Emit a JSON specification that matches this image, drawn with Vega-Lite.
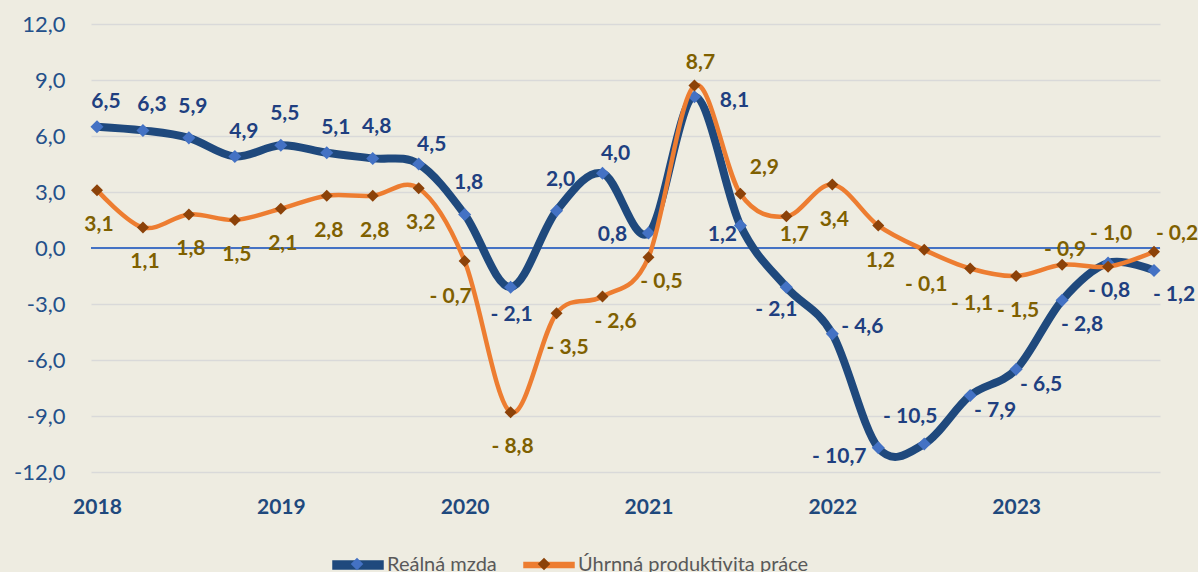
{
  "$schema": "https://vega.github.io/schema/vega-lite/v6.json",
  "width": 1069,
  "height": 448,
  "autosize": {"type": "none"},
  "padding": {"left": 91, "top": 24, "right": 38, "bottom": 100},
  "background": "#EEECE1",
  "config": {
    "view": {"stroke": null},
    "font": "Lato",
    "locale": {"number": {"decimal": ",", "thousands": " ", "grouping": [3], "currency": ["", ""], "minus": "- "}}
  },
  "data": {"values": [
    {"obdobi": "2018 Q1", "serie": "Reálná mzda", "hodnota": 6.5},
    {"obdobi": "2018 Q2", "serie": "Reálná mzda", "hodnota": 6.3},
    {"obdobi": "2018 Q3", "serie": "Reálná mzda", "hodnota": 5.9},
    {"obdobi": "2018 Q4", "serie": "Reálná mzda", "hodnota": 4.9},
    {"obdobi": "2019 Q1", "serie": "Reálná mzda", "hodnota": 5.5},
    {"obdobi": "2019 Q2", "serie": "Reálná mzda", "hodnota": 5.1},
    {"obdobi": "2019 Q3", "serie": "Reálná mzda", "hodnota": 4.8},
    {"obdobi": "2019 Q4", "serie": "Reálná mzda", "hodnota": 4.5},
    {"obdobi": "2020 Q1", "serie": "Reálná mzda", "hodnota": 1.8},
    {"obdobi": "2020 Q2", "serie": "Reálná mzda", "hodnota": -2.1},
    {"obdobi": "2020 Q3", "serie": "Reálná mzda", "hodnota": 2.0},
    {"obdobi": "2020 Q4", "serie": "Reálná mzda", "hodnota": 4.0},
    {"obdobi": "2021 Q1", "serie": "Reálná mzda", "hodnota": 0.8},
    {"obdobi": "2021 Q2", "serie": "Reálná mzda", "hodnota": 8.1},
    {"obdobi": "2021 Q3", "serie": "Reálná mzda", "hodnota": 1.2},
    {"obdobi": "2021 Q4", "serie": "Reálná mzda", "hodnota": -2.1},
    {"obdobi": "2022 Q1", "serie": "Reálná mzda", "hodnota": -4.6},
    {"obdobi": "2022 Q2", "serie": "Reálná mzda", "hodnota": -10.7},
    {"obdobi": "2022 Q3", "serie": "Reálná mzda", "hodnota": -10.5},
    {"obdobi": "2022 Q4", "serie": "Reálná mzda", "hodnota": -7.9},
    {"obdobi": "2023 Q1", "serie": "Reálná mzda", "hodnota": -6.5},
    {"obdobi": "2023 Q2", "serie": "Reálná mzda", "hodnota": -2.8},
    {"obdobi": "2023 Q3", "serie": "Reálná mzda", "hodnota": -0.8},
    {"obdobi": "2023 Q4", "serie": "Reálná mzda", "hodnota": -1.2},
    {"obdobi": "2018 Q1", "serie": "Úhrnná produktivita práce", "hodnota": 3.1},
    {"obdobi": "2018 Q2", "serie": "Úhrnná produktivita práce", "hodnota": 1.1},
    {"obdobi": "2018 Q3", "serie": "Úhrnná produktivita práce", "hodnota": 1.8},
    {"obdobi": "2018 Q4", "serie": "Úhrnná produktivita práce", "hodnota": 1.5},
    {"obdobi": "2019 Q1", "serie": "Úhrnná produktivita práce", "hodnota": 2.1},
    {"obdobi": "2019 Q2", "serie": "Úhrnná produktivita práce", "hodnota": 2.8},
    {"obdobi": "2019 Q3", "serie": "Úhrnná produktivita práce", "hodnota": 2.8},
    {"obdobi": "2019 Q4", "serie": "Úhrnná produktivita práce", "hodnota": 3.2},
    {"obdobi": "2020 Q1", "serie": "Úhrnná produktivita práce", "hodnota": -0.7},
    {"obdobi": "2020 Q2", "serie": "Úhrnná produktivita práce", "hodnota": -8.8},
    {"obdobi": "2020 Q3", "serie": "Úhrnná produktivita práce", "hodnota": -3.5},
    {"obdobi": "2020 Q4", "serie": "Úhrnná produktivita práce", "hodnota": -2.6},
    {"obdobi": "2021 Q1", "serie": "Úhrnná produktivita práce", "hodnota": -0.5},
    {"obdobi": "2021 Q2", "serie": "Úhrnná produktivita práce", "hodnota": 8.7},
    {"obdobi": "2021 Q3", "serie": "Úhrnná produktivita práce", "hodnota": 2.9},
    {"obdobi": "2021 Q4", "serie": "Úhrnná produktivita práce", "hodnota": 1.7},
    {"obdobi": "2022 Q1", "serie": "Úhrnná produktivita práce", "hodnota": 3.4},
    {"obdobi": "2022 Q2", "serie": "Úhrnná produktivita práce", "hodnota": 1.2},
    {"obdobi": "2022 Q3", "serie": "Úhrnná produktivita práce", "hodnota": -0.1},
    {"obdobi": "2022 Q4", "serie": "Úhrnná produktivita práce", "hodnota": -1.1},
    {"obdobi": "2023 Q1", "serie": "Úhrnná produktivita práce", "hodnota": -1.5},
    {"obdobi": "2023 Q2", "serie": "Úhrnná produktivita práce", "hodnota": -0.9},
    {"obdobi": "2023 Q3", "serie": "Úhrnná produktivita práce", "hodnota": -1.0},
    {"obdobi": "2023 Q4", "serie": "Úhrnná produktivita práce", "hodnota": -0.2}
  ]},
  "layer": [
    {
      "data": {"values": [{"hodnota": 0}]},
      "mark": {"type": "rule", "color": "#4472C4", "strokeWidth": 2},
      "encoding": {"y": {"field": "hodnota", "type": "quantitative", "scale": {"domain": [-12, 12], "nice": false, "zero": false},
        "axis": {"title": null, "values": [-12, -9, -6, -3, 0, 3, 6, 9, 12], "ticks": false, "domain": false,
          "grid": true, "gridColor": "#D9D9D9", "gridWidth": 1.5,
          "labelExpr": "(datum.value < 0 ? '-' : '') + format(abs(datum.value), '.1f')",
          "labelFont": "Lato", "labelFontSize": 22, "labelColor": "#24508A", "labelPadding": 26}}}
    },
    {
      "encoding": {
        "x": {"field": "obdobi", "type": "ordinal", "sort": null,
          "scale": {"type": "point", "padding": 0.13},
          "axis": {"title": null, "ticks": false, "domain": false, "grid": false, "labelAngle": 0,
            "labelExpr": "indexof(datum.value, 'Q1') >= 0 ? slice(datum.value, 0, 4) : ''",
            "labelFont": "Lato", "labelFontWeight": "bold", "labelFontSize": 21, "labelColor": "#1F497D",
            "labelPadding": 24, "labelOverlap": false}},
        "y": {"field": "hodnota", "type": "quantitative",
          "scale": {"domain": [-12, 12], "nice": false, "zero": false},
          "axis": {"title": null, "values": [-12, -9, -6, -3, 0, 3, 6, 9, 12], "ticks": false, "domain": false,
            "grid": true, "gridColor": "#D9D9D9", "gridWidth": 1.5,
            "labelExpr": "(datum.value < 0 ? '-' : '') + format(abs(datum.value), '.1f')",
            "labelFont": "Lato", "labelFontSize": 22, "labelColor": "#24508A", "labelPadding": 26}}
      },
      "layer": [
        {
          "transform": [{"filter": {"field": "serie", "equal": "Reálná mzda"}}],
          "mark": {"type": "line", "interpolate": "cardinal", "tension": 0, "strokeWidth": 8, "strokeCap": "round", "strokeJoin": "round"},
          "encoding": {"color": {"field": "serie", "type": "nominal",
            "scale": {"range": ["#1F497D", "#ED7D31"]},
            "legend": {"orient": "none", "legendX": 241, "legendY": 515, "direction": "horizontal", "title": null,
              "symbolType": "M-1,-0.16L1,-0.16L1,0.16L-1,0.16Z", "symbolSize": 2500,
              "labelFont": "Lato", "labelFontSize": 20, "labelColor": "#595959", "labelLimit": 400, "columnPadding": 24, "labelOffset": 3,
              "encoding": {"symbols": {
                "shape": {"condition": {"test": "datum.value === 'Reálná mzda'", "value": "M-1,-0.16L1,-0.16L1,0.16L-1,0.16Z"}, "value": "M-1,-0.1L1,-0.1L1,0.1L-1,0.1Z"},
                "fill": {"condition": {"test": "datum.value === 'Reálná mzda'", "value": "#1F497D"}, "value": "#ED7D31"},
                "stroke": {"value": "transparent"}
              }}}}}
        },
        {
          "transform": [{"filter": {"field": "serie", "equal": "Reálná mzda"}}],
          "mark": {"type": "point", "shape": "diamond", "filled": true, "size": 170, "opacity": 1, "strokeWidth": 0},
          "encoding": {"fill": {"field": "serie", "type": "nominal",
            "scale": {"domain": ["Reálná mzda", "Úhrnná produktivita práce"], "range": ["#4472C4", "#8C4209"]},
            "legend": {"orient": "none", "legendX": 241, "legendY": 515, "direction": "horizontal", "title": null,
              "symbolType": "M0,-0.25L0.25,0L0,0.25L-0.25,0Z", "symbolSize": 2500, "symbolStrokeWidth": 0,
              "labelFont": "Lato", "labelFontSize": 20, "labelOpacity": 0, "labelLimit": 400, "columnPadding": 24, "labelOffset": 3}}}
        },
        {
          "transform": [{"filter": {"field": "serie", "equal": "Úhrnná produktivita práce"}}],
          "mark": {"type": "line", "interpolate": "cardinal", "tension": 0, "strokeWidth": 4.5, "strokeCap": "round", "strokeJoin": "round"},
          "encoding": {"color": {"field": "serie", "type": "nominal"}}
        },
        {
          "transform": [{"filter": {"field": "serie", "equal": "Úhrnná produktivita práce"}}],
          "mark": {"type": "point", "shape": "diamond", "filled": true, "size": 144, "opacity": 1, "strokeWidth": 0},
          "encoding": {"fill": {"field": "serie", "type": "nominal"}}
        },
        {
          "encoding": {"text": {"field": "hodnota", "type": "quantitative", "format": ".1f"}},
          "layer": [
            {"transform": [{"filter": {"and": [{"field": "serie", "equal": "Reálná mzda"}, {"field": "obdobi", "oneOf": ["2018 Q3", "2019 Q1", "2019 Q3", "2020 Q1", "2020 Q3"]}]}}],
             "mark": {"type": "text", "font": "Lato", "fontWeight": "bold", "fontSize": 21, "color": "#203F80", "baseline": "middle", "align": "center", "dx": 4, "dy": -31}},
            {"transform": [{"filter": {"and": [{"field": "serie", "equal": "Reálná mzda"}, {"field": "obdobi", "oneOf": ["2018 Q1", "2018 Q2", "2018 Q4", "2019 Q2"]}]}}],
             "mark": {"type": "text", "font": "Lato", "fontWeight": "bold", "fontSize": 21, "color": "#203F80", "baseline": "middle", "align": "center", "dx": 9, "dy": -25}},
            {"transform": [{"filter": {"and": [{"field": "serie", "equal": "Reálná mzda"}, {"field": "obdobi", "oneOf": ["2019 Q4", "2020 Q4"]}]}}],
             "mark": {"type": "text", "font": "Lato", "fontWeight": "bold", "fontSize": 21, "color": "#203F80", "baseline": "middle", "align": "center", "dx": 13, "dy": -19}},
            {"transform": [{"filter": {"and": [{"field": "serie", "equal": "Reálná mzda"}, {"field": "obdobi", "oneOf": ["2020 Q2", "2023 Q3"]}]}}],
             "mark": {"type": "text", "font": "Lato", "fontWeight": "bold", "fontSize": 21, "color": "#203F80", "baseline": "middle", "align": "center", "dx": 1, "dy": 28}},
            {"transform": [{"filter": {"and": [{"field": "serie", "equal": "Reálná mzda"}, {"field": "obdobi", "oneOf": ["2022 Q4", "2023 Q1"]}]}}],
             "mark": {"type": "text", "font": "Lato", "fontWeight": "bold", "fontSize": 21, "color": "#203F80", "baseline": "middle", "align": "center", "dx": 25, "dy": 16}},
            {"transform": [{"filter": {"and": [{"field": "serie", "equal": "Reálná mzda"}, {"field": "obdobi", "oneOf": ["2023 Q2", "2023 Q4"]}]}}],
             "mark": {"type": "text", "font": "Lato", "fontWeight": "bold", "fontSize": 21, "color": "#203F80", "baseline": "middle", "align": "center", "dx": 20, "dy": 25}},
            {"transform": [{"filter": {"and": [{"field": "serie", "equal": "Reálná mzda"}, {"field": "obdobi", "oneOf": ["2021 Q2"]}]}}],
             "mark": {"type": "text", "font": "Lato", "fontWeight": "bold", "fontSize": 21, "color": "#203F80", "baseline": "middle", "align": "center", "dx": 40, "dy": 4}},
            {"transform": [{"filter": {"and": [{"field": "serie", "equal": "Reálná mzda"}, {"field": "obdobi", "oneOf": ["2022 Q1"]}]}}],
             "mark": {"type": "text", "font": "Lato", "fontWeight": "bold", "fontSize": 21, "color": "#203F80", "baseline": "middle", "align": "center", "dx": 30, "dy": -7}},
            {"transform": [{"filter": {"and": [{"field": "serie", "equal": "Reálná mzda"}, {"field": "obdobi", "oneOf": ["2021 Q1"]}]}}],
             "mark": {"type": "text", "font": "Lato", "fontWeight": "bold", "fontSize": 21, "color": "#203F80", "baseline": "middle", "align": "center", "dx": -36, "dy": 2}},
            {"transform": [{"filter": {"and": [{"field": "serie", "equal": "Reálná mzda"}, {"field": "obdobi", "oneOf": ["2022 Q2"]}]}}],
             "mark": {"type": "text", "font": "Lato", "fontWeight": "bold", "fontSize": 21, "color": "#203F80", "baseline": "middle", "align": "center", "dx": -39, "dy": 9}},
            {"transform": [{"filter": {"and": [{"field": "serie", "equal": "Reálná mzda"}, {"field": "obdobi", "oneOf": ["2021 Q3"]}]}}],
             "mark": {"type": "text", "font": "Lato", "fontWeight": "bold", "fontSize": 21, "color": "#203F80", "baseline": "middle", "align": "center", "dx": -18, "dy": 9}},
            {"transform": [{"filter": {"and": [{"field": "serie", "equal": "Reálná mzda"}, {"field": "obdobi", "oneOf": ["2021 Q4"]}]}}],
             "mark": {"type": "text", "font": "Lato", "fontWeight": "bold", "fontSize": 21, "color": "#203F80", "baseline": "middle", "align": "center", "dx": -10, "dy": 23}},
            {"transform": [{"filter": {"and": [{"field": "serie", "equal": "Reálná mzda"}, {"field": "obdobi", "oneOf": ["2022 Q3"]}]}}],
             "mark": {"type": "text", "font": "Lato", "fontWeight": "bold", "fontSize": 21, "color": "#203F80", "baseline": "middle", "align": "center", "dx": -14, "dy": -27}},
            {"transform": [{"filter": {"and": [{"field": "serie", "equal": "Úhrnná produktivita práce"}, {"field": "obdobi", "oneOf": ["2018 Q1", "2018 Q2", "2018 Q3", "2018 Q4", "2019 Q1", "2019 Q2", "2019 Q3", "2019 Q4", "2020 Q2", "2022 Q1", "2022 Q2", "2022 Q3", "2022 Q4", "2023 Q1"]}]}}],
             "mark": {"type": "text", "font": "Lato", "fontWeight": "bold", "fontSize": 21, "color": "#7F6000", "baseline": "middle", "align": "center", "dx": 2, "dy": 35}},
            {"transform": [{"filter": {"and": [{"field": "serie", "equal": "Úhrnná produktivita práce"}, {"field": "obdobi", "oneOf": ["2020 Q1"]}]}}],
             "mark": {"type": "text", "font": "Lato", "fontWeight": "bold", "fontSize": 21, "color": "#7F6000", "baseline": "middle", "align": "center", "dx": -14, "dy": 36}},
            {"transform": [{"filter": {"and": [{"field": "serie", "equal": "Úhrnná produktivita práce"}, {"field": "obdobi", "oneOf": ["2020 Q3"]}]}}],
             "mark": {"type": "text", "font": "Lato", "fontWeight": "bold", "fontSize": 21, "color": "#7F6000", "baseline": "middle", "align": "center", "dx": 11, "dy": 35}},
            {"transform": [{"filter": {"and": [{"field": "serie", "equal": "Úhrnná produktivita práce"}, {"field": "obdobi", "oneOf": ["2020 Q4", "2021 Q1"]}]}}],
             "mark": {"type": "text", "font": "Lato", "fontWeight": "bold", "fontSize": 21, "color": "#7F6000", "baseline": "middle", "align": "center", "dx": 13, "dy": 25}},
            {"transform": [{"filter": {"and": [{"field": "serie", "equal": "Úhrnná produktivita práce"}, {"field": "obdobi", "oneOf": ["2021 Q2"]}]}}],
             "mark": {"type": "text", "font": "Lato", "fontWeight": "bold", "fontSize": 21, "color": "#7F6000", "baseline": "middle", "align": "center", "dx": 6, "dy": -23}},
            {"transform": [{"filter": {"and": [{"field": "serie", "equal": "Úhrnná produktivita práce"}, {"field": "obdobi", "oneOf": ["2021 Q3"]}]}}],
             "mark": {"type": "text", "font": "Lato", "fontWeight": "bold", "fontSize": 21, "color": "#7F6000", "baseline": "middle", "align": "center", "dx": 24, "dy": -26}},
            {"transform": [{"filter": {"and": [{"field": "serie", "equal": "Úhrnná produktivita práce"}, {"field": "obdobi", "oneOf": ["2021 Q4"]}]}}],
             "mark": {"type": "text", "font": "Lato", "fontWeight": "bold", "fontSize": 21, "color": "#7F6000", "baseline": "middle", "align": "center", "dx": 8, "dy": 19}},
            {"transform": [{"filter": {"and": [{"field": "serie", "equal": "Úhrnná produktivita práce"}, {"field": "obdobi", "oneOf": ["2023 Q2"]}]}}],
             "mark": {"type": "text", "font": "Lato", "fontWeight": "bold", "fontSize": 21, "color": "#7F6000", "baseline": "middle", "align": "center", "dx": 3, "dy": -15}},
            {"transform": [{"filter": {"and": [{"field": "serie", "equal": "Úhrnná produktivita práce"}, {"field": "obdobi", "oneOf": ["2023 Q3"]}]}}],
             "mark": {"type": "text", "font": "Lato", "fontWeight": "bold", "fontSize": 21, "color": "#7F6000", "baseline": "middle", "align": "center", "dx": 3, "dy": -33}},
            {"transform": [{"filter": {"and": [{"field": "serie", "equal": "Úhrnná produktivita práce"}, {"field": "obdobi", "oneOf": ["2023 Q4"]}]}}],
             "mark": {"type": "text", "font": "Lato", "fontWeight": "bold", "fontSize": 21, "color": "#7F6000", "baseline": "middle", "align": "center", "dx": 23, "dy": -18}}
          ]
        }
      ]
    }
  ]
}
